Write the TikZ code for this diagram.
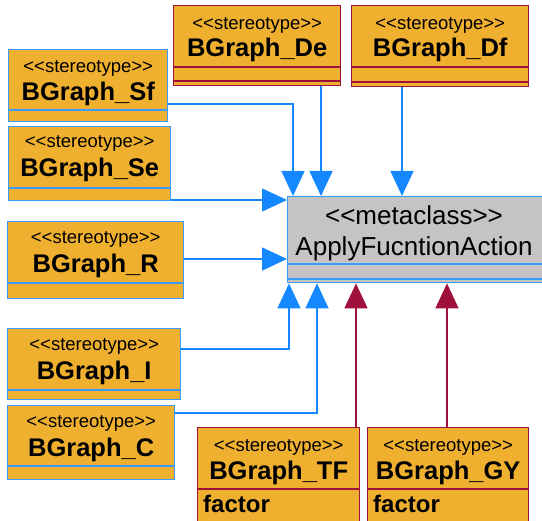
\documentclass[tikz,border=0pt]{standalone}
\usepackage{fontspec}
\setmainfont{Liberation Sans}
\usetikzlibrary{arrows.meta,calc}
\definecolor{classfill}{HTML}{EFB030}
\definecolor{metafill}{HTML}{C6C3C6}
\definecolor{boxblue}{HTML}{3A9BFF}
\definecolor{linkblue}{HTML}{1587FF}
\definecolor{boxred}{HTML}{A0103C}
% guillemet-style angle pairs, kept as two separate characters
\newcommand\stq[1]{<\kern0pt<#1>\kern0pt>}
\tikzset{
  x=1pt, y=-1pt,
  umlbox/.style={draw, line width=1.4pt, fill=classfill, inner sep=0pt, anchor=north west},
  bluebox/.style={umlbox, draw=boxblue},
  redbox/.style={umlbox, draw=boxred},
  metabox/.style={umlbox, draw=boxblue, fill=metafill},
  stereo/.style={font=\fontsize{18.5}{20}\selectfont, anchor=base, inner sep=0pt},
  cname/.style={font=\fontsize{25.5}{28}\selectfont\bfseries, anchor=base, inner sep=0pt},
  mtext/.style={font=\fontsize{26}{28}\selectfont, anchor=base, inner sep=0pt},
  attr/.style={font=\fontsize{24}{26}\selectfont\bfseries, anchor=base west, inner sep=0pt},
  bdiv/.style={draw=boxblue, line width=1.4pt},
  rdiv/.style={draw=boxred, line width=1.4pt},
  genblue/.style={draw=linkblue, line width=1.5pt, -{Triangle[width=23pt,length=25pt,fill=linkblue]}},
  genred/.style={draw=boxred, line width=1.5pt, -{Triangle[width=23pt,length=25pt,fill=boxred]}},
}
\begin{document}
\begin{tikzpicture}
\useasboundingbox (0,0) rectangle (542,521);
\clip (0,0) rectangle (542,521);

% metaclass
\node[metabox, minimum width=258pt, minimum height=86pt] (meta) at (287,196) {};
\node[mtext] (meta-s) at ($(meta.north west)+(127,29)$) {\stq{metaclass}};
\node[mtext] (meta-n) at ($(meta.north west)+(127,60)$) {ApplyFucntionAction};
\draw[bdiv] (meta.west |- 0,264) -- (meta.east |- 0,264);
\draw[bdiv] (meta.west |- 0,279) -- (meta.east |- 0,279);

% left column (blue borders)
\node[bluebox, minimum width=159pt, minimum height=72pt] (Sf) at (8,49) {};
\node[stereo] (Sf-s) at ($(Sf.north)+(0,24)$) {\stq{stereotype}};
\node[cname] (Sf-n) at ($(Sf.north)+(0,52)$) {BGraph\_Sf};
\draw[bdiv] (Sf.west |- 0,110) -- (Sf.east |- 0,110);

\node[bluebox, minimum width=162pt, minimum height=74pt] (Se) at (8,126) {};
\node[stereo] (Se-s) at ($(Se.north)+(0,22)$) {\stq{stereotype}};
\node[cname] (Se-n) at ($(Se.north)+(0,51)$) {BGraph\_Se};
\draw[bdiv] (Se.west |- 0,188) -- (Se.east |- 0,188);

\node[bluebox, minimum width=176pt, minimum height=77pt] (R) at (7,221) {};
\node[stereo] (R-s) at ($(R.north)+(0,23)$) {\stq{stereotype}};
\node[cname] (R-n) at ($(R.north)+(0,52)$) {BGraph\_R};
\draw[bdiv] (R.west |- 0,283) -- (R.east |- 0,283);

\node[bluebox, minimum width=173pt, minimum height=71pt] (I) at (7,328) {};
\node[stereo] (I-s) at ($(I.north)+(0,23)$) {\stq{stereotype}};
\node[cname] (I-n) at ($(I.north)+(0,52)$) {BGraph\_I};
\draw[bdiv] (I.west |- 0,390) -- (I.east |- 0,390);

\node[bluebox, minimum width=167pt, minimum height=74pt] (C) at (7,405) {};
\node[stereo] (C-s) at ($(C.north)+(0,23)$) {\stq{stereotype}};
\node[cname] (C-n) at ($(C.north)+(0,52)$) {BGraph\_C};
\draw[bdiv] (C.west |- 0,466) -- (C.east |- 0,466);

% top row (red borders)
\node[redbox, minimum width=167pt, minimum height=80pt] (De) at (173,5) {};
\node[stereo] (De-s) at ($(De.north)+(0,25)$) {\stq{stereotype}};
\node[cname] (De-n) at ($(De.north)+(0,52)$) {BGraph\_De};
\draw[rdiv] (De.west |- 0,67) -- (De.east |- 0,67);
\draw[rdiv] (De.west |- 0,81) -- (De.east |- 0,81);

\node[redbox, minimum width=177pt, minimum height=81pt] (Df) at (351,5) {};
\node[stereo] (Df-s) at ($(Df.north)+(0,25)$) {\stq{stereotype}};
\node[cname] (Df-n) at ($(Df.north)+(0,52)$) {BGraph\_Df};
\draw[rdiv] (Df.west |- 0,67) -- (Df.east |- 0,67);
\draw[rdiv] (Df.west |- 0,82) -- (Df.east |- 0,82);

% bottom row (red borders, with an attribute)
\node[redbox, minimum width=162pt, minimum height=110pt] (TF) at (197,427) {};
\node[stereo] (TF-s) at ($(TF.north)+(0,25)$) {\stq{stereotype}};
\node[cname] (TF-n) at ($(TF.north)+(0,53)$) {BGraph\_TF};
\draw[rdiv] (TF.west |- 0,489) -- (TF.east |- 0,489);
\node[attr] (TF-a) at ($(TF.north west)+(6,86)$) {factor};

\node[redbox, minimum width=161pt, minimum height=110pt] (GY) at (367,427) {};
\node[stereo] (GY-s) at ($(GY.north)+(0,25)$) {\stq{stereotype}};
\node[cname] (GY-n) at ($(GY.north)+(0,53)$) {BGraph\_GY};
\draw[rdiv] (GY.west |- 0,489) -- (GY.east |- 0,489);
\node[attr] (GY-a) at ($(GY.north west)+(6,86)$) {factor};

% generalisation links
\draw[genblue] (Sf.east |- 0,104) -| (meta.north -| 293,0);
\draw[genblue] (De.south -| 321,0) -- (meta.north -| 321,0);
\draw[genblue] (Df.south -| 402,0) -- (meta.north -| 402,0);
\draw[genblue] (Se.east |- 0,200) -- (meta.west |- 0,200);
\draw[genblue] (R.east |- 0,259) -- (meta.west |- 0,259);
\draw[genblue] (I.east |- 0,349) -| (meta.south -| 289,0);
\draw[genblue] (C.east |- 0,413) -| (meta.south -| 317,0);
\draw[genred] (TF.north -| 356,0) -- (meta.south -| 356,0);
\draw[genred] (GY.north -| 447,0) -- (meta.south -| 447,0);
\end{tikzpicture}
\end{document}
